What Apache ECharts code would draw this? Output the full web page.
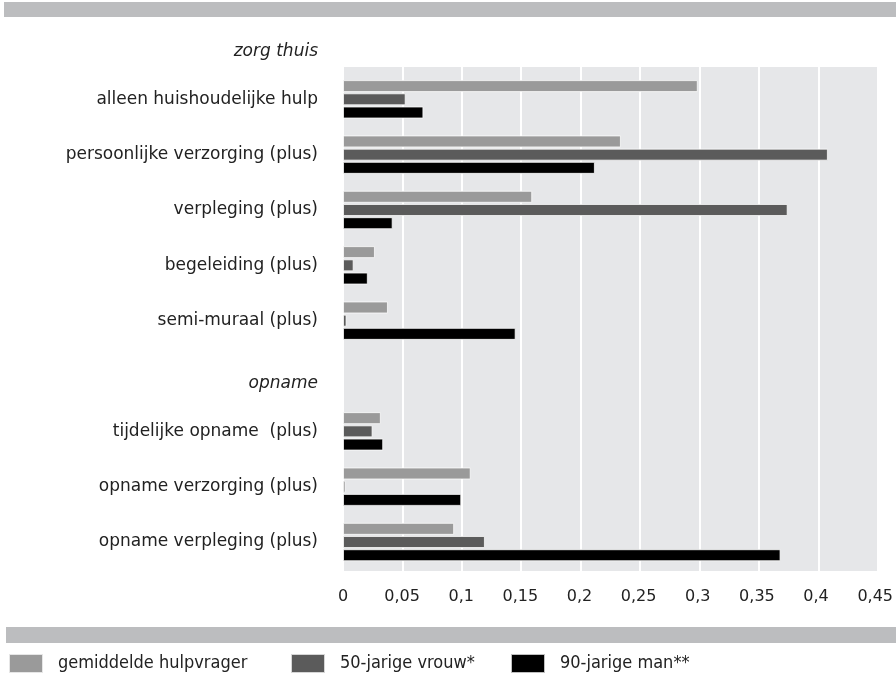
<!DOCTYPE html>
<html>
<head>
<meta charset="utf-8">
<script src="https://cdn.jsdelivr.net/npm/echarts@6/dist/echarts.min.js"></script>
<style>html,body{margin:0;padding:0;background:#fff}#c{width:896px;height:678px}</style>
</head>
<body>
<div id="c"></div>
<script>
const categories = ['zorg thuis','alleen huishoudelijke hulp','persoonlijke verzorging (plus)','verpleging (plus)','begeleiding (plus)','semi-muraal (plus)','opname','tijdelijke opname  (plus)','opname verzorging (plus)','opname verpleging (plus)'];
const headers = ['zorg thuis','opname'];
const seriesNames = ['gemiddelde hulpvrager','50-jarige vrouw*','90-jarige man**'];
const gemiddelde = ['-',0.300,0.235,0.160,0.027,0.038,'-',0.032,0.108,0.094];
const vrouw50   = ['-',0.053,0.410,0.376,0.009,0.003,'-',0.025,0.002,0.120];
const man90     = ['-',0.068,0.213,0.042,0.021,0.146,'-',0.034,0.100,0.370];
const tickLabels = ['0','0,05','0,1','0,15','0,2','0,25','0,3','0,35','0,4','0,45'];
const xMin = 0, xMax = 0.45, xInterval = 0.05;

const colors = ['#9a9a9a','#5b5b5b','#000000'];
const FONT = '"DejaVu Sans"';
const FONT_COND = '"DejaVu Sans Condensed", "DejaVu Sans"';
const chart = echarts.init(document.getElementById('c'), null, {renderer:'canvas'});
const mk = (name, data, i) => ({
  name, type:'bar', data, xAxisIndex:1, yAxisIndex:1,
  barWidth:12, barGap:'10%',
  itemStyle:{color:colors[i], borderColor:'rgba(255,255,255,0.75)', borderWidth:1},
  emphasis:{disabled:true}, animation:false
});
const legendBase = (name, left) => ({
  data:[name], left, top:653, padding:0, itemWidth:34, itemHeight:19,
  icon:'rect', selectedMode:false,
  textStyle:{fontFamily:FONT_COND, fontSize:18, color:'#222', padding:[0,0,0,10]}
});
chart.setOption({
  animation:false,
  color: colors,
  graphic:[
    {type:'rect', shape:{x:4,y:2,width:892,height:15}, style:{fill:'#bcbdbf'}, silent:true},
    {type:'rect', shape:{x:6,y:627,width:890,height:16}, style:{fill:'#bcbdbf'}, silent:true}
  ],
  legend:[legendBase(seriesNames[0],8), legendBase(seriesNames[1],290), legendBase(seriesNames[2],510)],
  grid:[
    {left:343, right:18.3, top:67, bottom:107, show:true, backgroundColor:'#e6e7e9', borderWidth:0, containLabel:false},
    {left:343, right:18.3, top:16.3, bottom:108.3, containLabel:false}
  ],
  xAxis:[
    {gridIndex:0, type:'value', min:xMin, max:xMax, interval:xInterval,
     axisLine:{show:false}, axisTick:{show:false}, axisLabel:{show:false},
     splitLine:{show:true, lineStyle:{color:'#ffffff', width:2}}},
    {gridIndex:1, type:'value', min:xMin, max:xMax, interval:xInterval,
     axisLine:{show:false}, axisTick:{show:false}, splitLine:{show:false},
     axisLabel:{show:true, margin:19, fontFamily:FONT, fontSize:16, color:'#222',
       formatter:(v)=>tickLabels[Math.round((v-xMin)/xInterval)]}}
  ],
  yAxis:[
    {gridIndex:0, type:'value', show:false},
    {gridIndex:1, type:'category', data:categories, inverse:true,
     axisLine:{show:false}, axisTick:{show:false},
     axisLabel:{margin:25, fontFamily:FONT, fontSize:17, color:'#222',
       formatter:(v)=> headers.includes(v) ? '{h|'+v+'}' : v,
       rich:{h:{fontFamily:FONT, fontSize:17, fontStyle:'italic', color:'#222', padding:[16,0,0,0]}}}}
  ],
  series:[mk(seriesNames[0],gemiddelde,0), mk(seriesNames[1],vrouw50,1), mk(seriesNames[2],man90,2)]
});
</script>
</body>
</html>
